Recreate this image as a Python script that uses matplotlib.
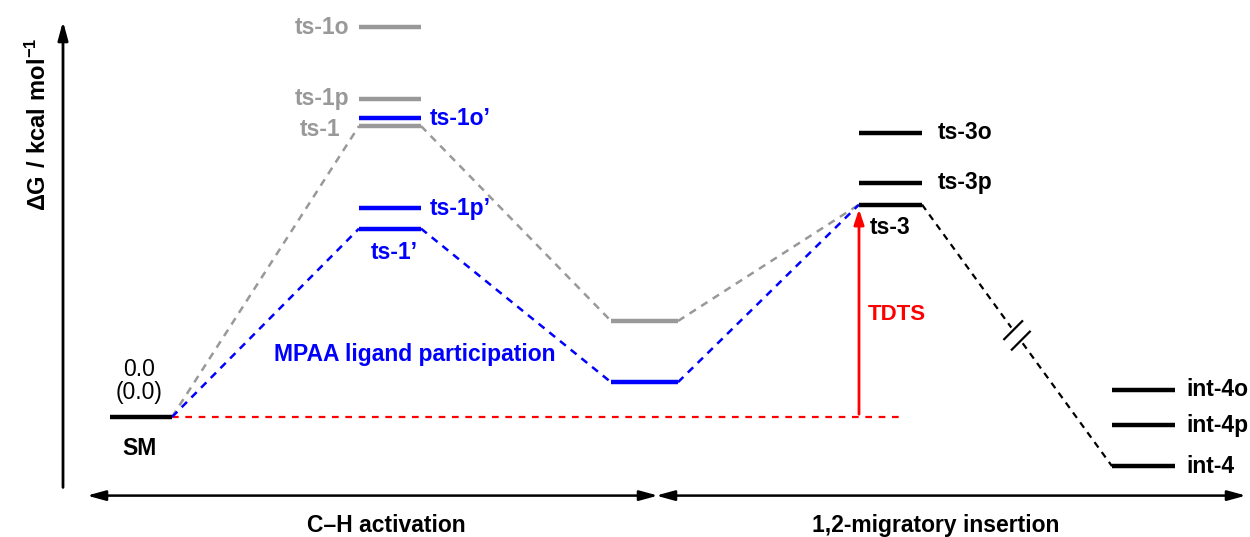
import matplotlib
matplotlib.use("Agg")
import matplotlib.pyplot as plt

plt.rcParams['font.family'] = ['Liberation Sans', 'DejaVu Sans']
plt.rcParams['mathtext.fontset'] = 'custom'
plt.rcParams['mathtext.rm'] = 'Liberation Sans'
plt.rcParams['mathtext.bf'] = 'Liberation Sans:bold'

names_grey = ['ts-1o', 'ts-1p', 'ts-1', 'int-2']
e_grey = [32.5, 26.5, 24.25, 8.0]
names_blue = ["ts-1o'", "ts-1p'", "ts-1'", "int-2'"]
e_blue = [24.9, 17.4, 15.7, 2.9]
names_black = ['SM', 'ts-3o', 'ts-3p', 'ts-3', 'int-4o', 'int-4p', 'int-4']
e_black = [0.0, 23.7, 19.5, 17.7, 2.25, -0.7, -4.1]

grey = '#999999'
blue = '#0000ff'
red = '#ff0000'

# column x-extents (layout)
col = {'SM': (110, 172), 'ts1': (359, 421), 'int2': (611, 678),
       'ts3': (859, 922), 'int4': (1112, 1175)}
x_of = {'ts-1o': 'ts1', 'ts-1p': 'ts1', 'ts-1': 'ts1', 'int-2': 'int2',
        "ts-1o'": 'ts1', "ts-1p'": 'ts1', "ts-1'": 'ts1', "int-2'": 'int2',
        'SM': 'SM', 'ts-3o': 'ts3', 'ts-3p': 'ts3', 'ts-3': 'ts3',
        'int-4o': 'int4', 'int-4p': 'int4', 'int-4': 'int4'}

fig = plt.figure(figsize=(12.5, 5.37), dpi=100)
ax = fig.add_axes([0, 0, 1, 1])
ax.set_xlim(0, 1250)
ax.set_ylim(-10, 34.75)
ax.axis('off')

E = {}
for names, es, c in [(names_grey, e_grey, grey), (names_blue, e_blue, blue),
                     (names_black, e_black, 'black')]:
    for n, e in zip(names, es):
        x0, x1 = col[x_of[n]]
        ax.plot([x0, x1], [e, e], color=c, lw=3.2, solid_capstyle='butt', zorder=3)
        E[n] = e

def connect(path, c):
    for a, b in zip(path[:-1], path[1:]):
        xa = col[x_of[a]][1]
        xb = col[x_of[b]][0]
        ax.plot([xa, xb], [E[a], E[b]], color=c, lw=1.8, ls=(0, (3, 2.5)), zorder=2)

connect(['SM', 'ts-1', 'int-2', 'ts-3'], grey)
connect(['SM', "ts-1'", "int-2'", 'ts-3'], blue)

# ts-3 -> int-4 with a break
xa, xb = col['ts3'][1], col['int4'][0]
ya, yb = E['ts-3'], E['int-4']
f1, f2 = 0.47, 0.53
ax.plot([xa, xa + f1 * (xb - xa)], [ya, ya + f1 * (yb - ya)], color='black', lw=1.6,
        ls=(0, (3, 2.5)), zorder=2)
ax.plot([xa + f2 * (xb - xa), xb], [ya + f2 * (yb - ya), yb], color='black', lw=1.6,
        ls=(0, (3, 2.5)), zorder=2)
for f in (f1 + 0.01, f2 - 0.01):
    xm, ym = xa + f * (xb - xa), ya + f * (yb - ya)
    ax.plot([xm - 9, xm + 9], [ym - 0.75, ym + 0.75], color='black', lw=1.6)

# TDTS reference line and arrow
ax.plot([col['SM'][1], 900], [0, 0], color=red, lw=1.6, ls=(0, (3, 3)), zorder=1)
ax.annotate('', xy=(859, E['ts-3'] - 0.15), xytext=(859, 0),
            arrowprops=dict(arrowstyle='-|>,head_length=0.9,head_width=0.3',
                            color=red, lw=2), zorder=4)
ax.text(868, 8.5, 'TDTS', color=red, fontsize=16, fontweight='bold', va='center')

fs = 16.5
# labels
ax.text(139, 3.95, '0.0', fontsize=fs, ha='center', va='center')
ax.text(139, 2.0, '(0.0)', fontsize=fs, ha='center', va='center')
ax.text(139, -2.6, 'SM', fontsize=fs, ha='center', va='center', fontweight='bold')
for n in ['ts-1o', 'ts-1p']:
    ax.text(349, E[n], n, color=grey, fontsize=fs, fontweight='bold', ha='right', va='center')
ax.text(340, E['ts-1'] - 0.3, 'ts-1', color=grey, fontsize=fs, fontweight='bold',
        ha='right', va='center')
ax.text(430, E["ts-1o'"], "ts-1o’", color=blue, fontsize=fs, fontweight='bold', va='center')
ax.text(430, E["ts-1p'"], "ts-1p’", color=blue, fontsize=fs, fontweight='bold', va='center')
ax.text(394, E["ts-1'"] - 2.0, "ts-1’", color=blue, fontsize=fs, fontweight='bold',
        ha='center', va='center')
ax.text(415, 5.2, 'MPAA ligand participation', color=blue, fontsize=fs,
        fontweight='bold', ha='center', va='center')
ax.text(938, E['ts-3o'], 'ts-3o', fontsize=fs, fontweight='bold', va='center')
ax.text(938, E['ts-3p'], 'ts-3p', fontsize=fs, fontweight='bold', va='center')
ax.text(870, E['ts-3'] - 1.9, 'ts-3', fontsize=fs, fontweight='bold', va='center')
for n in ['int-4o', 'int-4p', 'int-4']:
    ax.text(1186, E[n], n, fontsize=fs, fontweight='bold', va='center')

# energy axis
ax.annotate('', xy=(63, 33.2), xytext=(63, -6.1),
            arrowprops=dict(arrowstyle='-|>,head_length=1.1,head_width=0.3',
                            color='black', lw=2))
ax.text(38, 24.4, r'$\mathbf{\Delta G\ /\ kcal\ mol^{-1}}$', rotation=90, fontsize=17,
        ha='center', va='center')

# stage arrows
ax.annotate('', xy=(87, -6.55), xytext=(658, -6.55),
            arrowprops=dict(arrowstyle='<|-|>,head_length=1.1,head_width=0.3',
                            color='black', lw=1.8, shrinkA=0, shrinkB=0))
ax.annotate('', xy=(656, -6.55), xytext=(1246, -6.55),
            arrowprops=dict(arrowstyle='<|-|>,head_length=1.1,head_width=0.3',
                            color='black', lw=1.8, shrinkA=0, shrinkB=0))
ax.text(386, -9.05, 'C–H activation', fontsize=fs, fontweight='bold', ha='center', va='center')
ax.text(936, -9.05, '1,2-migratory insertion', fontsize=fs, fontweight='bold',
        ha='center', va='center')

fig.savefig('out.png', dpi=100, facecolor='white')
